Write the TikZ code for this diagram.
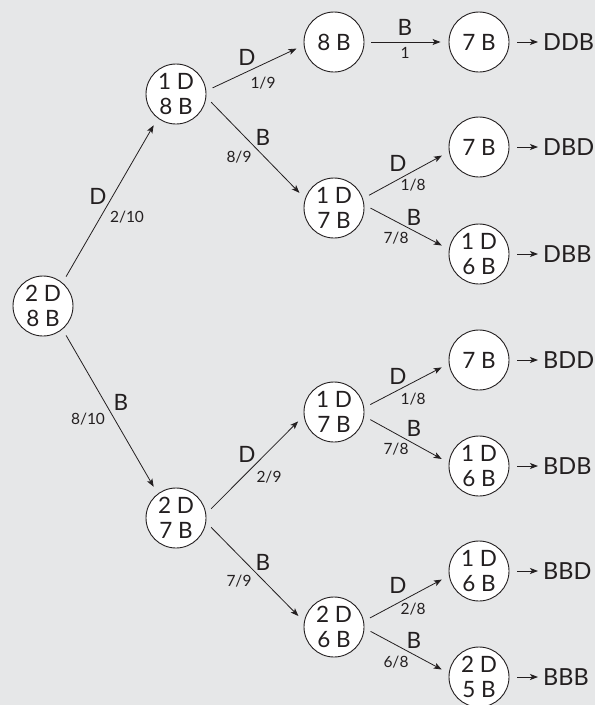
\documentclass[tikz,border=0pt]{standalone}
\usepackage{fontspec}
\setmainfont{Lato}
\usetikzlibrary{arrows.meta}
\definecolor{bg}{HTML}{E6E7E8}
\definecolor{ink}{HTML}{231F20}
\begin{document}
\begin{tikzpicture}[x=1pt,y=-1pt,
  st/.style={circle, draw=ink, fill=white, line width=0.9pt, minimum size=60pt, inner sep=0pt, align=center, font=\fontsize{22.5}{25}\selectfont, text=ink},
  arr/.style={draw=ink, line width=0.8pt, -{Stealth[length=8pt,width=6pt,inset=2pt]}, shorten <=7pt, shorten >=8pt},
  lab/.style={font=\fontsize{22.5}{25}\selectfont, text=ink, inner sep=0pt},
  prob/.style={font=\fontsize{15.5}{18}\selectfont, text=ink, inner sep=0pt},
  res/.style={font=\fontsize{23.5}{26}\selectfont, text=ink, anchor=west, inner sep=2pt},
  resarr/.style={draw=ink, line width=0.8pt, -{Stealth[length=8pt,width=6pt,inset=2pt]}, shorten <=8pt, shorten >=3pt}]
\fill[bg] (0,0) rectangle (595,705);
\useasboundingbox (0,0) rectangle (595,705);

% states
\node[st] (root) at (43,306) {2 D\\8 B};
\node[st] (a) at (176,94) {1 D\\8 B};
\node[st] (b) at (176,518) {2 D\\7 B};
\node[st] (aa) at (334,42) {8 B};
\node[st] (ab) at (334,208) {1 D\\7 B};
\node[st] (ba) at (334,412) {1 D\\7 B};
\node[st] (bb) at (334,627) {2 D\\6 B};
\node[st] (l1) at (479,42) {7 B};
\node[st] (l2) at (479,147) {7 B};
\node[st] (l3) at (479,254) {1 D\\6 B};
\node[st] (l4) at (479,360) {7 B};
\node[st] (l5) at (479,466) {1 D\\6 B};
\node[st] (l6) at (479,571) {1 D\\6 B};
\node[st] (l7) at (479,677) {2 D\\5 B};

% results
\node[res] (r1) at (541,42) {DDB};
\node[res] (r2) at (541,147) {DBD};
\node[res] (r3) at (541,254) {DBB};
\node[res] (r4) at (541,360) {BDD};
\node[res] (r5) at (541,466) {BDB};
\node[res] (r6) at (541,571) {BBD};
\node[res] (r7) at (541,677) {BBB};

% connectors
\draw[arr] (root.50) -- (a.233);
\draw[arr] (root.310) -- (b.127);
\draw[arr] (a.6) -- (aa.186);
\draw[arr] (a.354) -- (ab.162);
\draw[arr] (b.8) -- (ba.187);
\draw[arr] (b.352) -- (bb.170);
\draw[arr] (aa.0) -- (l1.180);
\draw[arr] (ab.18) -- (l2.189);
\draw[arr] (ab.6) -- (l3.171);
\draw[arr] (ba.8) -- (l4.187);
\draw[arr] (ba.352) -- (l5.174);
\draw[arr] (bb.11) -- (l6.189);
\draw[arr] (bb.358) -- (l7.173);
\foreach \i in {1,...,7} \draw[resarr] (l\i) -- (r\i);

% edge labels
\node[lab] (t1) at (98,196) {D};
\node[prob] (p1) at (127,217) {2/10};
\node[lab] (t2) at (121,402) {B};
\node[prob] (p2) at (88,419) {8/10};
\node[lab] (t3) at (247,57) {D};
\node[prob] (p3) at (263,83) {1/9};
\node[lab] (t4) at (263,137) {B};
\node[prob] (p4) at (239,157) {8/9};
\node[lab] (t5) at (247,454) {D};
\node[prob] (p5) at (269,477) {2/9};
\node[lab] (t6) at (263,562) {B};
\node[prob] (p6) at (239,581) {7/9};
\node[lab] (t7) at (405,27) {B};
\node[prob] (p7) at (405,53) {1};
\node[lab] (t8) at (398,163) {D};
\node[prob] (p8) at (413,185) {1/8};
\node[lab] (t9) at (414,217) {B};
\node[prob] (p9) at (396,238) {7/8};
\node[lab] (t10) at (398,376) {D};
\node[prob] (p10) at (413,399) {1/8};
\node[lab] (t11) at (414,428) {B};
\node[prob] (p11) at (396,449) {7/8};
\node[lab] (t12) at (398,585) {D};
\node[prob] (p12) at (413,609) {2/8};
\node[lab] (t13) at (414,640) {B};
\node[prob] (p13) at (396,662) {6/8};
\end{tikzpicture}
\end{document}
